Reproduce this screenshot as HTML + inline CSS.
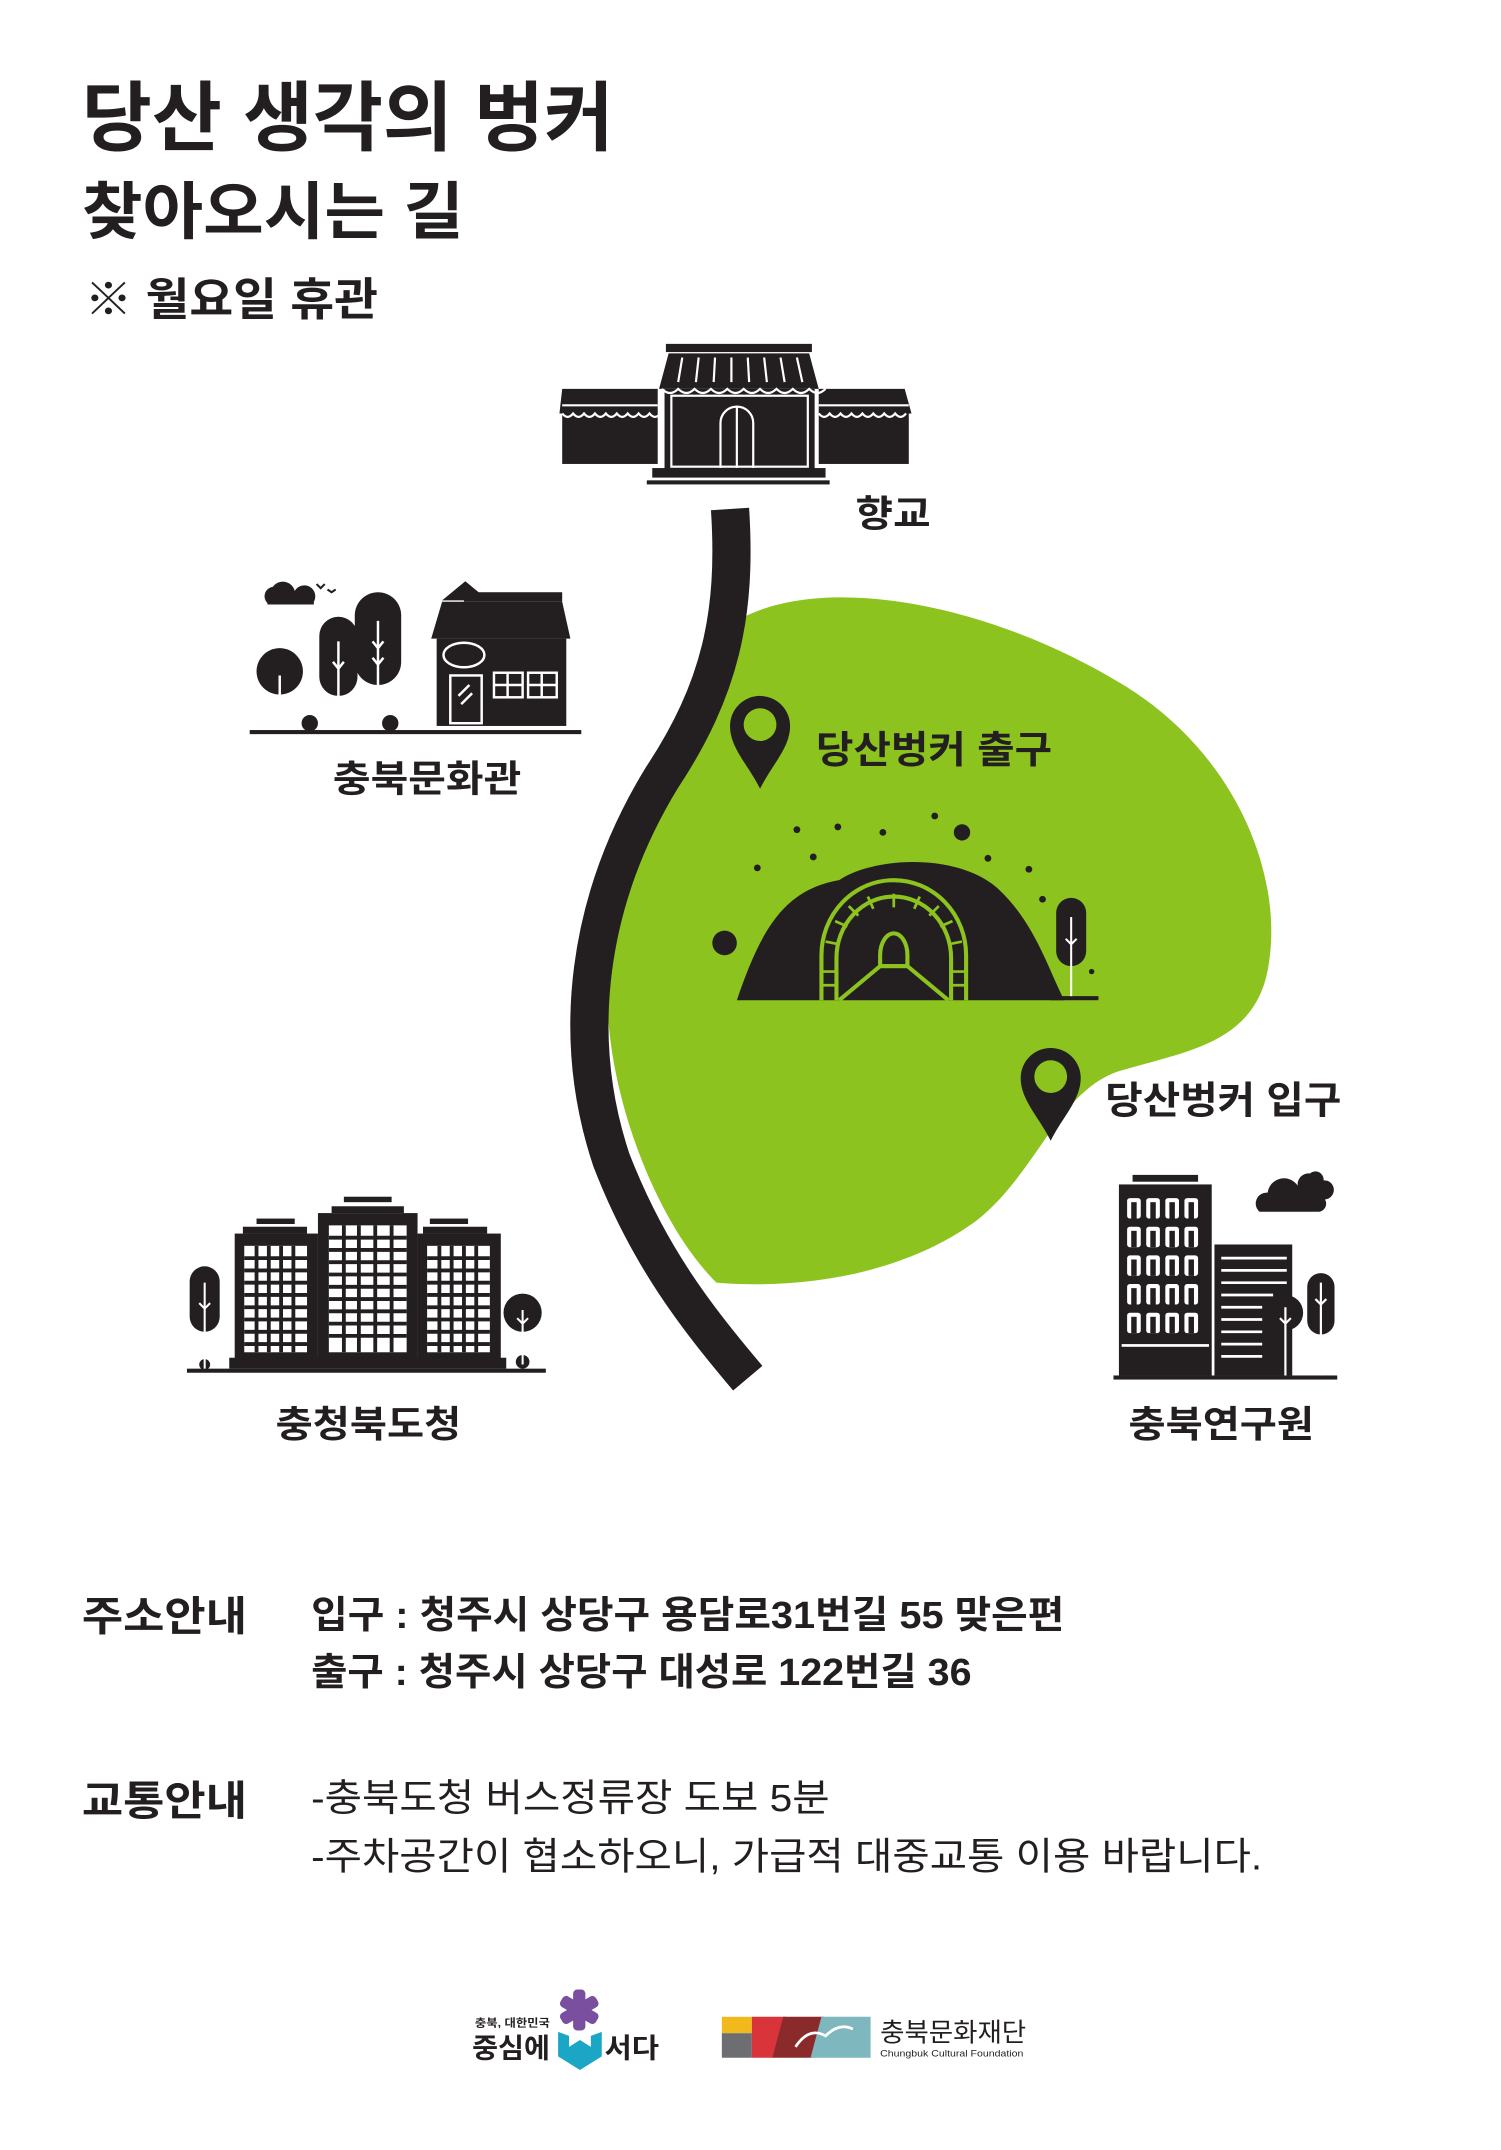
<!DOCTYPE html>
<html><head><meta charset="utf-8"><style>
html,body{margin:0;padding:0;background:#fff;width:1501px;height:2150px;overflow:hidden}
svg{display:block}
text{font-family:"Liberation Sans","Noto Sans CJK KR",sans-serif;fill:#231f20}
</style></head><body>
<svg width="1501" height="2150" viewBox="0 0 1100 1575.6" xmlns="http://www.w3.org/2000/svg">
<!-- titles -->
<text x="60" y="106" font-size="56" font-weight="700" textLength="390" lengthAdjust="spacingAndGlyphs">당산 생각의 벙커</text>
<text x="60" y="171" font-size="46" font-weight="700" textLength="280" lengthAdjust="spacingAndGlyphs">찾아오시는 길</text>
<text x="62" y="231" font-size="33" font-weight="700" textLength="215" lengthAdjust="spacingAndGlyphs">※ 월요일 휴관</text>

<!-- green blob -->
<path d="M540,455 C600,420 720,440 820,500 C905,550 940,640 930,705 C922,765 870,770 820,785 C775,800 760,860 715,895 C660,935 585,945 525,940 C485,900 452,820 446,750 C440,650 480,560 540,455 Z" fill="#8dc31f"/>
<!-- road -->
<path d="M535,373 C540,450 528,505 485,570 C430,660 418,760 448,850 C475,920 510,965 548,1010" fill="none" stroke="#231f20" stroke-width="28"/>

<!-- Hyanggyo -->
<g fill="#231f20">
<rect x="488" y="252" width="107" height="6"/>
<path d="M490,259 L593,259 L600,285 L483,285 Z"/>
<rect x="487" y="285" width="110" height="60"/>
<path d="M412,285 L482,285 L482,303 L410,303 Z"/>
<path d="M600,285 L663,285 L668,303 L600,303 Z"/>
<rect x="412" y="303" width="70" height="37"/>
<rect x="600" y="303" width="66" height="37"/>
<rect x="478" y="343" width="127" height="7"/>
<rect x="474" y="352" width="134" height="3"/>
</g>
<g stroke="#fff" stroke-width="1.6" fill="none">
<path d="M500,262 L497,280 M512,262 L510,280 M524,262 L523,280 M536,262 L536,280 M548,262 L549,280 M560,262 L562,280 M572,262 L575,280 M584,262 L588,280"/>
<path d="M485,285 q6,6 12,0 q6,6 12,0 q6,6 12,0 q6,6 12,0 q6,6 12,0 q6,6 12,0 q6,6 12,0 q6,6 12,0 q6,6 12,0 q6,6 12,0"/>
<path d="M412,297 h70 M600,297 h66"/>
<path d="M412,303 q4,5 8,0 q4,5 8,0 q4,5 8,0 q4,5 8,0 q4,5 8,0 q4,5 8,0 q4,5 8,0 q4,5 8,0 q4,5 8,0"/>
<path d="M600,303 q4,5 8,0 q4,5 8,0 q4,5 8,0 q4,5 8,0 q4,5 8,0 q4,5 8,0 q4,5 8,0 q4,5 8,0"/>
<path d="M528,343 V310 a12,12 0 0 1 24,0 V343 M540,298 V343"/>
<rect x="492" y="290" width="100" height="52"/>
</g>
<text x="627" y="386" font-size="27" font-weight="700" textLength="55" lengthAdjust="spacingAndGlyphs">향교</text>

<!-- Culture hall -->
<g fill="#231f20">
<path d="M196,442 a7,7 0 0 1 4,-12 a9,9 0 0 1 16,3 a7,7 0 0 1 14,8 v2 h-34 Z"/>
<path d="M232,428 l3,3 l3,-3 M240,432 l3,2 l3,-2" stroke="#231f20" stroke-width="1.5" fill="none"/>
<circle cx="205" cy="492" r="17"/>
<rect x="234" y="452" width="28" height="58" rx="14"/>
<rect x="260" y="434" width="34" height="68" rx="17"/>
<rect x="340" y="434" width="72" height="7"/>
<path d="M341,426 L358,440 L324,440 Z"/>
<path d="M324,441 L412,441 L418,468 L316,468 Z"/>
<rect x="320" y="468" width="95" height="64"/>
<rect x="183" y="535" width="243" height="3"/>
<circle cx="227" cy="530" r="6"/><circle cx="286" cy="530" r="6"/>
</g>
<g stroke="#fff" stroke-width="1.8" fill="none">
<path d="M205,535 V495 M248,535 V470 M244,485 l4,5 l4,-5 M277,535 V455 M273,470 l4,5 l4,-5 M273,482 l4,5 l4,-5"/>
<ellipse cx="340" cy="480" rx="15" ry="9"/>
<rect x="330" y="495" width="23" height="35"/>
<path d="M336,510 l8,-8 M338,516 l8,-8"/>
<rect x="362" y="493" width="21" height="18"/><path d="M372,493 v18 M362,502 h21"/>
<rect x="387" y="493" width="21" height="18"/><path d="M397,493 v18 M387,502 h21"/>
</g>
<text x="244" y="580" font-size="27" font-weight="700" textLength="138" lengthAdjust="spacingAndGlyphs">충북문화관</text>

<!-- pins -->
<g fill="#231f20">
<path d="M557,578 C548,560 535,548 535,532 a22,22 0 0 1 44,0 C579,548 566,560 557,578 Z"/>
<path d="M770,836 C761,818 748,806 748,790 a22,22 0 0 1 44,0 C792,806 779,818 770,836 Z"/>
</g>
<circle cx="557" cy="531" r="12" fill="#8dc31f"/>
<circle cx="770" cy="789" r="12" fill="#8dc31f"/>
<text x="598" y="559" font-size="28" font-weight="700" textLength="173" lengthAdjust="spacingAndGlyphs">당산벙커 출구</text>
<text x="810" y="816" font-size="28" font-weight="700" textLength="173" lengthAdjust="spacingAndGlyphs">당산벙커 입구</text>

<!-- tunnel -->
<g fill="#231f20">
<path d="M540,733 C558,680 575,652 615,645 C640,628 700,625 730,650 C758,675 768,710 780,733 Z"/>
<circle cx="531" cy="691" r="9"/>
<circle cx="555" cy="636" r="2.5"/><circle cx="584" cy="608" r="2.5"/><circle cx="614" cy="606" r="2.5"/><circle cx="647" cy="610" r="2.5"/><circle cx="685" cy="598" r="2.5"/><circle cx="705" cy="610" r="6"/><circle cx="596" cy="628" r="2.5"/><circle cx="724" cy="629" r="2.5"/><circle cx="754" cy="637" r="2.5"/><circle cx="764" cy="659" r="2.5"/><circle cx="800" cy="712" r="2"/>
<rect x="774" y="658" width="22" height="50" rx="11"/>
<rect x="770" y="730" width="35" height="3"/>
</g>
<path d="M785,730 V672 M781,688 l4,4 l4,-4" stroke="#fff" stroke-width="1.5" fill="none"/>
<g fill="none" stroke="#8dc31f" stroke-width="3">
<path d="M602,733 V700 a53,55 0 0 1 106,0 V733"/>
<path d="M613,733 V702 a42,45 0 0 1 84,0 V733"/>
<path d="M602,712 h11 M602,722 h11 M697,712 h11 M697,722 h11 M605,690 l10,2 M612,675 l9,4 M622,664 l7,7 M636,657 l4,9 M655,655 v10 M674,657 l-4,9 M688,664 l-7,7 M698,675 l-9,4 M705,690 l-10,2" stroke-width="2"/>
<path d="M645,700 a10,16 0 0 1 20,0 v8 h-20 Z"/>
<path d="M615,733 L645,708 h20 L695,733"/>
</g>

<!-- Provincial office -->
<g fill="#231f20">
<rect x="252" y="877" width="35" height="4"/>
<rect x="243" y="884" width="53" height="5"/>
<rect x="233" y="889" width="73" height="110"/>
<rect x="188" y="893" width="28" height="4"/><rect x="178" y="899" width="47" height="5"/>
<rect x="172" y="904" width="61" height="95"/>
<rect x="315" y="893" width="28" height="4"/><rect x="310" y="899" width="47" height="5"/>
<rect x="306" y="904" width="61" height="95"/>
<rect x="168" y="995" width="203" height="8"/>
<rect x="137" y="1003" width="263" height="3"/>
<rect x="139" y="928" width="22" height="48" rx="11"/>
<circle cx="383" cy="962" r="14"/>
<circle cx="150" cy="1000" r="4"/><circle cx="383" cy="998" r="5"/>
</g>
<g stroke="#fff" stroke-width="1.5" fill="none">
<path d="M150,1003 V940 M146,955 l4,4 l4,-4 M383,1000 V960 M379,966 l4,4 l4,-4"/>
</g>
<g fill="#fff">
<rect x="179" y="913" width="46" height="78"/>
<rect x="241" y="898" width="57" height="93"/>
<rect x="313" y="913" width="46" height="78"/>
</g>
<g stroke="#231f20" stroke-width="2.8">
<path d="M179,922 h46 M179,931 h46 M179,940 h46 M179,949 h46 M179,958 h46 M179,967 h46 M179,976 h46 M179,985 h46 M188,913 v78 M197,913 v78 M206,913 v78 M215,913 v78"/>
<path d="M313,922 h46 M313,931 h46 M313,940 h46 M313,949 h46 M313,958 h46 M313,967 h46 M313,976 h46 M313,985 h46 M322,913 v78 M331,913 v78 M340,913 v78 M349,913 v78"/>
<path d="M241,907 h57 M241,916 h57 M241,925 h57 M241,934 h57 M241,943 h57 M241,952 h57 M241,961 h57 M241,970 h57 M241,979 h57 M252,898 v93 M263,898 v93 M275,898 v93 M287,898 v93"/>
</g>
<text x="202" y="1053" font-size="27" font-weight="700" textLength="136" lengthAdjust="spacingAndGlyphs">충청북도청</text>

<!-- Research institute -->
<g fill="#231f20">
<rect x="830" y="861" width="48" height="5"/>
<rect x="820" y="868" width="68" height="140"/>
<rect x="890" y="912" width="57" height="96"/>
<rect x="816" y="1008" width="164" height="3"/>
<path d="M923,888 a8,8 0 0 1 6,-14 a12,12 0 0 1 22,-5 a8,8 0 0 1 9,-9 a6,6 0 0 1 10,5 a7,7 0 0 1 1,14 a6,6 0 0 1 -4,9 Z"/>
<circle cx="942" cy="962" r="13"/>
<rect x="958" y="933" width="20" height="45" rx="10"/>
</g>
<g fill="#fff">
<rect x="826" y="878" width="10" height="15" rx="2"/><rect x="840" y="878" width="10" height="15" rx="2"/><rect x="854" y="878" width="10" height="15" rx="2"/><rect x="868" y="878" width="10" height="15" rx="2"/>
<rect x="826" y="899" width="10" height="15" rx="2"/><rect x="840" y="899" width="10" height="15" rx="2"/><rect x="854" y="899" width="10" height="15" rx="2"/><rect x="868" y="899" width="10" height="15" rx="2"/>
<rect x="826" y="920" width="10" height="15" rx="2"/><rect x="840" y="920" width="10" height="15" rx="2"/><rect x="854" y="920" width="10" height="15" rx="2"/><rect x="868" y="920" width="10" height="15" rx="2"/>
<rect x="826" y="941" width="10" height="15" rx="2"/><rect x="840" y="941" width="10" height="15" rx="2"/><rect x="854" y="941" width="10" height="15" rx="2"/><rect x="868" y="941" width="10" height="15" rx="2"/>
<rect x="826" y="962" width="10" height="15" rx="2"/><rect x="840" y="962" width="10" height="15" rx="2"/><rect x="854" y="962" width="10" height="15" rx="2"/><rect x="868" y="962" width="10" height="15" rx="2"/>
<rect x="822" y="985" width="64" height="2"/>
</g>
<g fill="#231f20"><rect x="829" y="881" width="4" height="12"/><rect x="843" y="881" width="4" height="12"/><rect x="857" y="881" width="4" height="12"/><rect x="871" y="881" width="4" height="12"/>
<rect x="829" y="902" width="4" height="12"/><rect x="843" y="902" width="4" height="12"/><rect x="857" y="902" width="4" height="12"/><rect x="871" y="902" width="4" height="12"/>
<rect x="829" y="923" width="4" height="12"/><rect x="843" y="923" width="4" height="12"/><rect x="857" y="923" width="4" height="12"/><rect x="871" y="923" width="4" height="12"/>
<rect x="829" y="944" width="4" height="12"/><rect x="843" y="944" width="4" height="12"/><rect x="857" y="944" width="4" height="12"/><rect x="871" y="944" width="4" height="12"/>
<rect x="829" y="965" width="4" height="12"/><rect x="843" y="965" width="4" height="12"/><rect x="857" y="965" width="4" height="12"/><rect x="871" y="965" width="4" height="12"/></g>
<g stroke="#fff" stroke-width="2">
<path d="M895,922 h48 M895,931 h48 M895,940 h48 M895,949 h38 M895,958 h30 M895,967 h30 M895,976 h30 M895,985 h30 M895,994 h30"/>
<path d="M942,1008 V958 M938,966 l4,4 l4,-4 M968,1008 V940 M964,952 l4,4 l4,-4" stroke-width="1.6" fill="none"/>
</g>
<text x="827" y="1053" font-size="27" font-weight="700" textLength="136" lengthAdjust="spacingAndGlyphs">충북연구원</text>

<!-- info -->
<text x="60" y="1195" font-size="30" font-weight="700" textLength="121" lengthAdjust="spacingAndGlyphs">주소안내</text>
<text x="228" y="1193" font-size="28" font-weight="700" textLength="552" lengthAdjust="spacingAndGlyphs">입구 : 청주시 상당구 용담로31번길 55 맞은편</text>
<text x="228" y="1235" font-size="28" font-weight="700" textLength="484" lengthAdjust="spacingAndGlyphs">출구 : 청주시 상당구 대성로 122번길 36</text>
<text x="60" y="1330" font-size="30" font-weight="700" textLength="121" lengthAdjust="spacingAndGlyphs">교통안내</text>
<text x="228" y="1327" font-size="28" font-weight="400" textLength="380" lengthAdjust="spacingAndGlyphs">-충북도청 버스정류장 도보 5분</text>
<text x="228" y="1370" font-size="28" font-weight="400" textLength="697" lengthAdjust="spacingAndGlyphs">-주차공간이 협소하오니, 가급적 대중교통 이용 바랍니다.</text>

<!-- logos -->
<text x="348" y="1485" font-size="8" font-weight="700" textLength="55" lengthAdjust="spacingAndGlyphs">충북, 대한민국</text>
<text x="346" y="1508" font-size="20" font-weight="700" textLength="57" lengthAdjust="spacingAndGlyphs">중심에</text>
<g fill="#7b4fa0">
<rect x="420" y="1458" width="9" height="30" rx="3"/>
<rect x="420" y="1458" width="9" height="30" rx="3" transform="rotate(60 424.5 1473)"/>
<rect x="420" y="1458" width="9" height="30" rx="3" transform="rotate(-60 424.5 1473)"/>
</g>
<path d="M409,1489 l8,3 v8 l8,-5 l8,5 v-8 l8,-3 v18 l-16,10 l-16,-10 Z" fill="#1aa6c4"/>
<text x="443" y="1508" font-size="20" font-weight="700" textLength="40" lengthAdjust="spacingAndGlyphs">서다</text>
<rect x="529" y="1478" width="22" height="12" fill="#f2b91c"/>
<rect x="529" y="1490" width="22" height="18" fill="#6d6e71"/>
<path d="M551,1478 h25 l-10,30 h-15 Z" fill="#d9343a"/>
<path d="M574,1478 h30 l-8,30 h-30 Z" fill="#8a2a2a"/>
<path d="M602,1478 h36 v30 h-44 Z" fill="#7fb7be"/>
<path d="M583,1500 q10,-15 22,-8 q10,-10 20,-5" stroke="#fff" stroke-width="2" fill="none"/>
<text x="645" y="1496" font-size="19" font-weight="400" textLength="107" lengthAdjust="spacingAndGlyphs">충북문화재단</text>
<text x="645" y="1507" font-size="7" textLength="105" lengthAdjust="spacingAndGlyphs">Chungbuk Cultural Foundation</text>
</svg>
</body></html>
